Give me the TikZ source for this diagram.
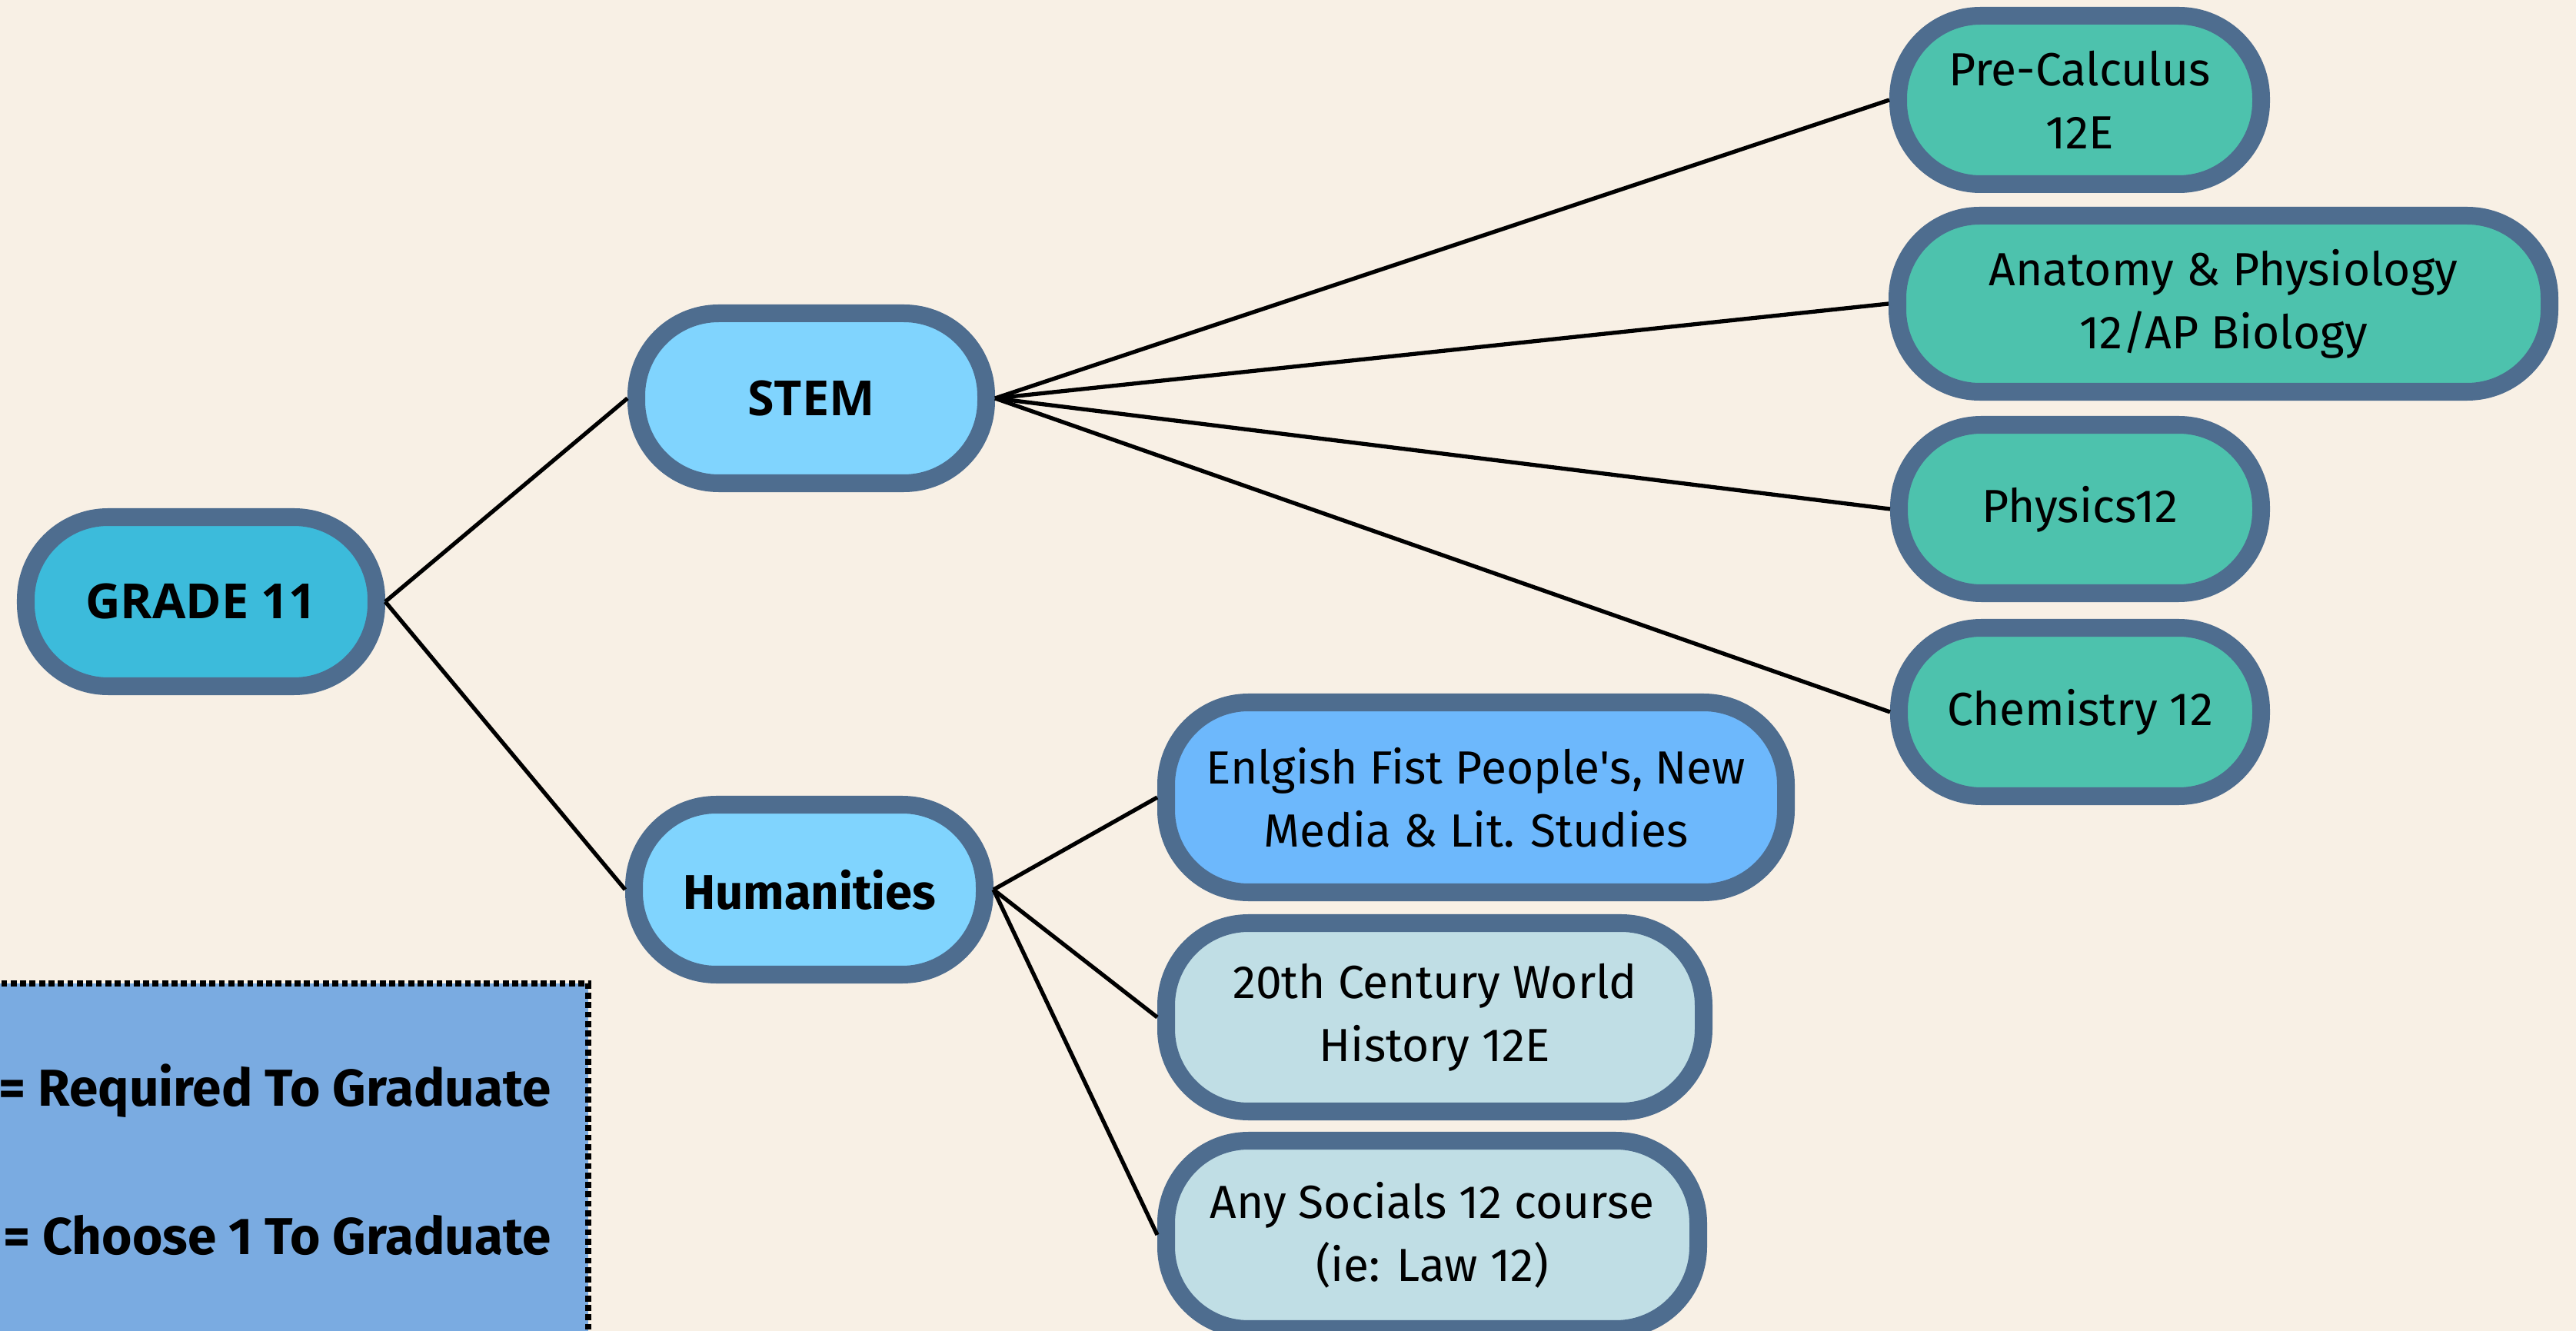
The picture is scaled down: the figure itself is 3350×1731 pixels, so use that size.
\documentclass[tikz,border=0pt]{standalone}
\usepackage{fontspec}
\setmainfont{Fira Sans}
\newfontfamily\opensans{Open Sans}
\definecolor{bgc}{HTML}{F8F0E5}
\definecolor{bord}{HTML}{4E6D8F}
\definecolor{cgrade}{HTML}{3CBBDB}
\definecolor{cmid}{HTML}{80D4FE}
\definecolor{cteal}{HTML}{4DC2AD}
\definecolor{ceng}{HTML}{6DB8FC}
\definecolor{chist}{HTML}{C0DEE5}
\definecolor{clegend}{HTML}{7AABE1}
\tikzset{
  pill/.style={draw=bord, line width=0.23cm, rounded corners=1.07cm, align=center, inner sep=0pt, text=black},
  wh/.style 2 args={minimum width={(#1-23)*0.01cm}, minimum height={(#2-23)*0.01cm}},
  regtext/.style={font=\fontsize{17.2}{23.3}\selectfont},
  boldos/.style={font=\opensans\bfseries\fontsize{17.9}{21}\selectfont},
  conn/.style={draw=black, line width=1.5pt},
  legtext/.style={font=\bfseries\fontsize{19.2}{22}\selectfont, inner sep=0pt, anchor=base east}
}
\begin{document}
\begin{tikzpicture}[x=0.01cm, y=-0.01cm]
\fill[bgc] (0,0) rectangle (3350,1731);
\useasboundingbox (0,0) rectangle (3350,1731);

% legend
\fill[clegend] (-60,1279) rectangle (765,1735);
\draw[black, line width=2.2pt, dash pattern=on 2.2pt off 1.3pt] (-60,1279) -- (765,1279) -- (765,1735) -- (-60,1735);
\node[legtext] (leg1) at (717,1438) {= Required To Graduate};
\node[legtext] (leg2) at (717,1631) {= Choose 1 To Graduate};

% nodes
\node[pill, fill=cgrade, wh={479}{243}, boldos] (g11) at (261.5,782.5) {GRADE 11};
\node[pill, fill=cmid, wh={478}{244}, boldos] (stem) at (1055,518) {STEM};
\node[pill, fill=cmid, wh={479}{244}, font=\bfseries\fontsize{18}{21}\selectfont] (hum) at (1052.5,1157) {Humanities};

\node[pill, fill=cteal, wh={495}{242}, regtext] (pre) at (2704.5,130) {Pre-Calculus\\12E};
\node[pill, fill=cteal, wh={871}{252}, regtext] (ana) at (2891.5,395) {Anatomy \& Physiology\\12/AP Biology};
\node[pill, fill=cteal, wh={494}{242}, regtext] (phy) at (2705,662) {Physics12};
\node[pill, fill=cteal, wh={494}{242}, regtext] (che) at (2705,926) {Chemistry 12};

\node[pill, fill=ceng, wh={829}{270}, regtext] (eng) at (1919.5,1037) {Enlgish Fist People\textquotesingle s, New\\Media \& Lit. Studies};
\node[pill, fill=chist, wh={722}{268}, regtext] (his) at (1866,1323) {20th Century World\\History 12E};
\node[pill, fill=chist, wh={715}{268}, regtext] (soc) at (1862.5,1606) {Any Socials 12 course\\(ie: Law 12)};

% connectors
\draw[conn] (g11.east) -- (stem.west);
\draw[conn] (g11.east) -- (hum.west);
\draw[conn] (stem.east) -- (pre.west);
\draw[conn] (stem.east) -- (ana.west);
\draw[conn] (stem.east) -- (phy.west);
\draw[conn] (stem.east) -- (che.west);
\draw[conn] (hum.east) -- (eng.west);
\draw[conn] (hum.east) -- (his.west);
\draw[conn] (hum.east) -- (soc.west);
\end{tikzpicture}
\end{document}
